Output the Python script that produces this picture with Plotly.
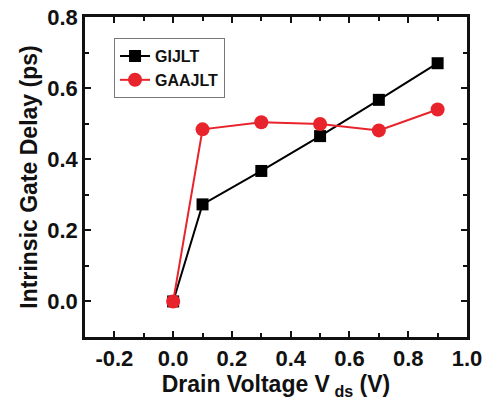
import plotly.graph_objects as go

vds = [0.0, 0.1, 0.3, 0.5, 0.7, 0.9]
gijlt = [0.0, 0.273, 0.367, 0.465, 0.567, 0.670]
gaajlt = [0.0, 0.484, 0.504, 0.499, 0.481, 0.540]

x_ticks = [-0.2, 0.0, 0.2, 0.4, 0.6, 0.8, 1.0]
y_ticks = [0.0, 0.2, 0.4, 0.6, 0.8]

FONT = "Liberation Sans"
INK = "#111111"
RED = "#e8232b"

fig = go.Figure()
fig.add_trace(go.Scatter(x=vds, y=gijlt, name="<b>GIJLT</b>", mode="lines+markers",
                         line=dict(color="black", width=2),
                         marker=dict(symbol="square", size=12, color="black")))
fig.add_trace(go.Scatter(x=vds, y=gaajlt, name="<b>GAAJLT</b>", mode="lines+markers",
                         line=dict(color=RED, width=2),
                         marker=dict(symbol="circle", size=14, color=RED)))

axis_common = dict(showgrid=False, zeroline=False, showline=True, linecolor=INK, linewidth=2.5,
                   mirror="ticks", ticks="inside", ticklen=6, tickwidth=2, tickcolor=INK,
                   automargin=False,
                   tickfont=dict(family=FONT, size=22, color=INK))

fig.update_xaxes(range=[-0.3, 1.0], tickvals=x_ticks, ticktext=["<b>%.1f</b>" % v for v in x_ticks],
                 minor=dict(ticks="inside", dtick=0.1, tick0=0, ticklen=4, tickwidth=2, tickcolor=INK),
                 title=dict(text="<b>Drain Voltage V<sub> ds</sub> (V)</b>", font=dict(family=FONT, size=23, color=INK), standoff=4),
                 **axis_common)
fig.update_yaxes(range=[-0.1, 0.8], tickvals=y_ticks, ticktext=["<b>%.1f</b>" % v for v in y_ticks],
                 minor=dict(ticks="inside", dtick=0.1, tick0=0, ticklen=4, tickwidth=2, tickcolor=INK),
                 title=dict(text="<b>Intrinsic Gate Delay (ps)</b>", font=dict(family=FONT, size=23, color=INK), standoff=4),
                 **axis_common)

fig.update_layout(
    width=489, height=401,
    margin=dict(l=85, r=22, t=17, b=64),
    plot_bgcolor="white", paper_bgcolor="white",
    showlegend=True,
    legend=dict(x=0.076, y=0.934, xanchor="left", yanchor="top",
                bgcolor="white", bordercolor="#777777", borderwidth=1,
                font=dict(family=FONT, size=16, color=INK),
                itemwidth=30, tracegroupgap=0),
)

fig.write_html("out.html")
